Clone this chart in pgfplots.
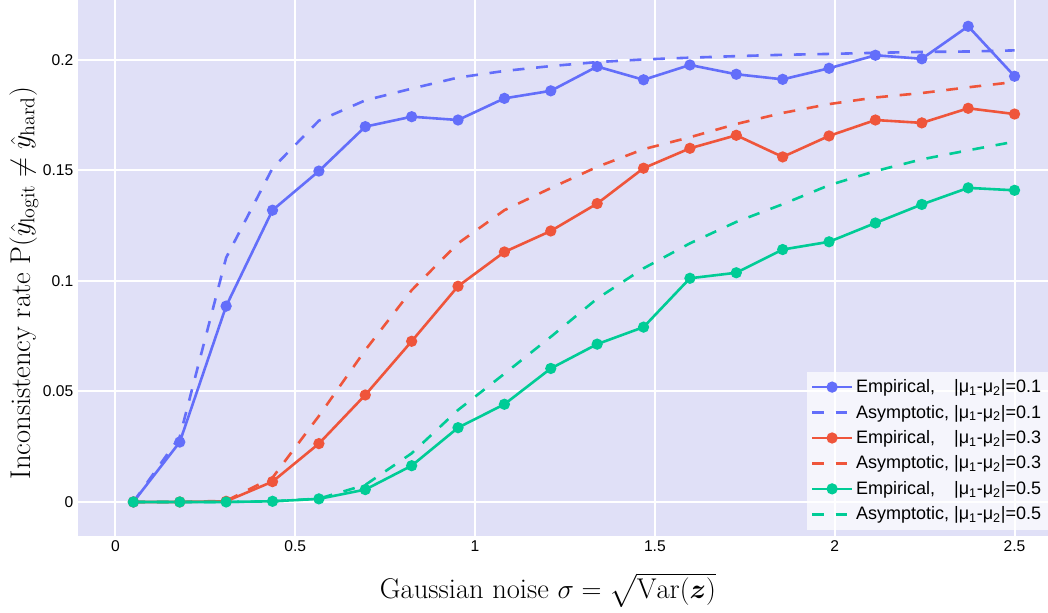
\documentclass[border=0pt]{standalone}
\usepackage{fontspec}
\usepackage{amsmath}
\usepackage{pgfplots}
\usepackage{pgfplotstable}
\pgfplotsset{compat=1.18}
\newfontfamily\arial{Liberation Sans}
\definecolor{bgc}{RGB}{224,224,247}
\definecolor{cblue}{HTML}{636EFA}
\definecolor{cred}{HTML}{EF553B}
\definecolor{cgreen}{HTML}{00CC96}
\newcommand\mus{|μ\textsubscript{1}-μ\textsubscript{2}|}
\newcommand\emp{\rlap{Empirical,}\phantom{Asymptotic,}}

% sigma, empirical / asymptotic rate for |mu1-mu2| = 0.1, 0.3, 0.5
\pgfplotstableread{
x       e1     a1     e3     a3     e5     a5
0.05    0.0    0.0    0.0    0.0    0.0    0.0
0.17895 0.0271 0.0295 0.0    0.0    0.0    0.0
0.30789 0.0886 0.1105 0.0003 0.0005 0.0   0.0
0.43684 0.1320 0.1510 0.0092 0.0110 0.0003 0.0003
0.56579 0.1497 0.1725 0.0264 0.0389 0.0014 0.0015
0.69474 0.1698 0.1817 0.0484 0.0687 0.0056 0.0077
0.82368 0.1743 0.1870 0.0727 0.0958 0.0164 0.0220
0.95263 0.1728 0.1920 0.0976 0.1170 0.0336 0.0416
1.08158 0.1826 0.1950 0.1131 0.1320 0.0442 0.0580
1.21053 0.1860 0.1972 0.1226 0.1420 0.0604 0.0747
1.33947 0.1970 0.1990 0.1350 0.1516 0.0714 0.0920
1.46842 0.1910 0.2002 0.1510 0.1596 0.0791 0.1057
1.59737 0.1977 0.2010 0.1600 0.1650 0.1012 0.1170
1.72632 0.1935 0.2017 0.1659 0.1710 0.1037 0.1267
1.85526 0.1912 0.2023 0.1561 0.1760 0.1142 0.1347
1.98421 0.1962 0.2027 0.1656 0.1800 0.1177 0.1433
2.11316 0.2021 0.2032 0.1728 0.1830 0.1262 0.1497
2.24211 0.2005 0.2036 0.1715 0.1850 0.1346 0.1550
2.37105 0.2152 0.2038 0.1781 0.1876 0.1421 0.1591
2.5     0.1926 0.2043 0.1755 0.1900 0.1410 0.1630
}\rates

\begin{document}
\begin{tikzpicture}
\begin{axis}[
    name=ax,
    scale only axis,
    width=727.5pt, height=402pt,
    xmin=-0.104, xmax=2.593,
    ymin=-0.0154, ymax=0.2271,
    xtick={0,0.5,1,1.5,2,2.5},
    ytick={0,0.05,0.1,0.15,0.2},
    xticklabels={0,0.5,1,1.5,2,2.5},
    yticklabels={0,0.05,0.1,0.15,0.2},
    ticklabel style={font=\arial\fontsize{11.7}{14}\selectfont},
    major tick length=0pt,
    axis line style={draw=none},
    axis background/.style={fill=bgc},
    grid=major,
    major grid style={white, line width=1.5pt},
    every axis x label/.style={at={(rel axis cs:0.4845,0)}, yshift=-40.5pt, anchor=center},
    every axis y label/.style={at={(rel axis cs:0,0.472)}, xshift=-40.5pt, rotate=90, anchor=center},
    label style={font=\fontsize{21.4}{24}\selectfont},
    xlabel={Gaussian noise $\sigma=\sqrt{\mathrm{Var}(\boldsymbol{z})}$},
    ylabel={Inconsistency rate $\mathrm{P}(\hat{y}_{\mathrm{logit}}\neq\hat{y}_{\mathrm{hard}})$},
    legend cell align=left,
    legend image code/.code={\draw[mark repeat=2,mark phase=2,#1,opacity=1,fill opacity=1] plot coordinates {(0pt,0pt) (15pt,0pt) (30pt,0pt)};},
    legend style={at={(rel axis cs:1,0.011)}, anchor=south east,
        fill=white, fill opacity=0.7, text opacity=1, draw=none,
        font=\arial\fontsize{13.5}{16}\selectfont, row sep=3.8pt,
        inner xsep=3pt, inner ysep=4pt},
    emp/.style={line width=1.95pt, mark=*, mark size=3.2pt, mark options={solid}},
    asy/.style={line width=1.95pt, dash pattern=on 8.8pt off 8.8pt},
]
\addplot[cblue, emp] table[x=x, y=e1] {\rates};
\addlegendentry{\emp\ \mus=0.1}
\addplot[cblue, asy] table[x=x, y=a1] {\rates};
\addlegendentry{Asymptotic, \mus=0.1}
\addplot[cred, emp] table[x=x, y=e3] {\rates};
\addlegendentry{\emp\ \mus=0.3}
\addplot[cred, asy] table[x=x, y=a3] {\rates};
\addlegendentry{Asymptotic, \mus=0.3}
\addplot[cgreen, emp] table[x=x, y=e5] {\rates};
\addlegendentry{\emp\ \mus=0.5}
\addplot[cgreen, asy] table[x=x, y=a5] {\rates};
\addlegendentry{Asymptotic, \mus=0.5}
\end{axis}
\pgfresetboundingbox
\path ([shift={(-58.5pt,-57.75pt)}]ax.south west) rectangle (ax.north east);
\end{tikzpicture}
\end{document}
